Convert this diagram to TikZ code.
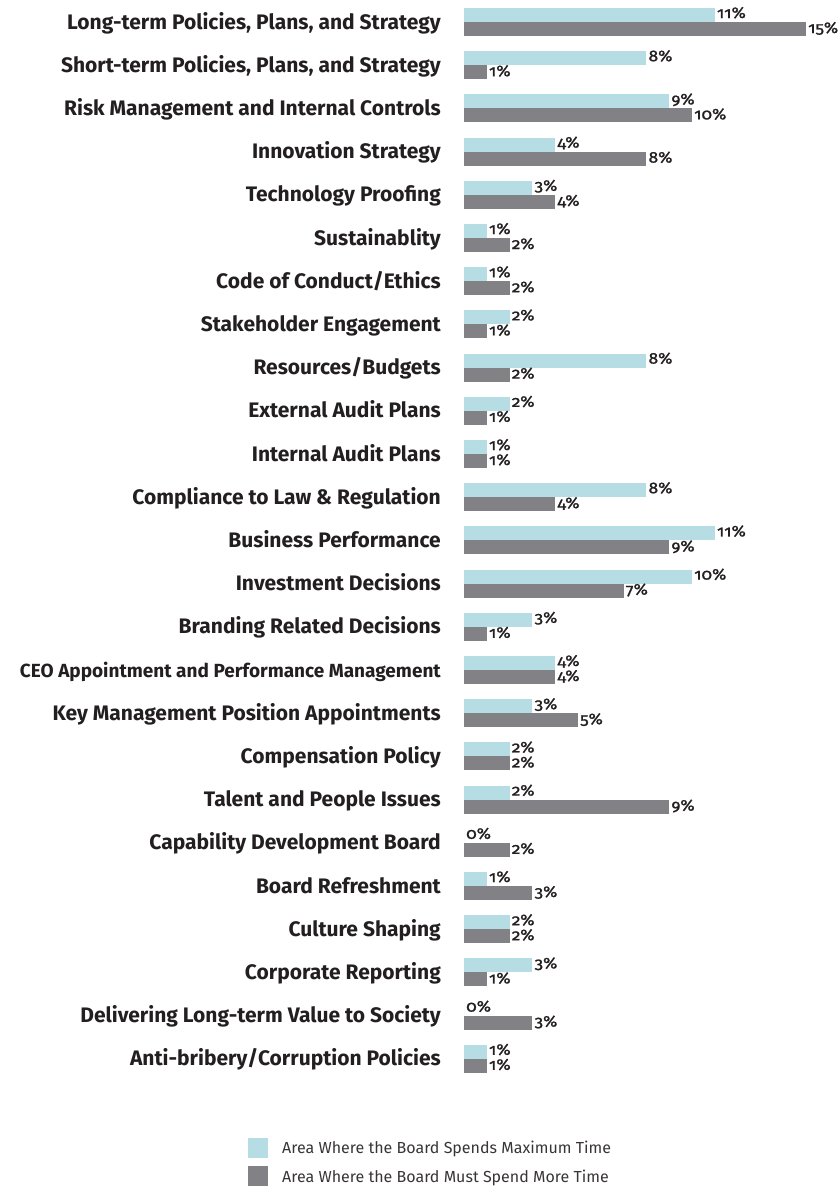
\documentclass[tikz,border=0pt]{standalone}
\usepackage{fontspec}
\setmainfont{Fira Sans}[Numbers=OldStyle]
\newfontfamily\pctfont{Fira Sans}[Numbers=OldStyle, FakeStretch=1.12, FakeBold=1.2]
\usetikzlibrary{positioning}
\definecolor{maxblue}{HTML}{B5DDE3}
\definecolor{moregray}{HTML}{828286}
\definecolor{inkblack}{HTML}{231F20}
\tikzstyle{topic}=[anchor=base east, font=\bfseries\fontsize{21}{24}\selectfont, text=inkblack, inner sep=0pt]
\tikzstyle{pct}=[anchor=base west, font=\pctfont\fontsize{15.5}{18}\selectfont, text=inkblack, inner sep=0pt]
\tikzstyle{legendtext}=[anchor=base west, font=\fontsize{16}{18}\selectfont, text=inkblack!90, inner sep=0pt]

\begin{document}
\begin{tikzpicture}[x=1pt, y=-1pt]

  \useasboundingbox (0,0) rectangle (840,1186);

  \def\u{22.8}
  \def\rowgap{43.2}

   \foreach \i/\name/\a/\b in {1/{Long-term Policies, Plans, and Strategy}/11/15, 2/{Short-term Policies, Plans, and Strategy}/8/1, 3/{Risk Management and Internal Controls}/9/10, 4/{Innovation Strategy}/4/8, 5/{Technology Proofing}/3/4, 6/{Sustainablity}/1/2, 7/{Code of Conduct/Ethics}/1/2, 8/{Stakeholder Engagement}/2/1, 9/{Resources/Budgets}/8/2, 10/{External Audit Plans}/2/1, 11/{Internal Audit Plans}/1/1, 12/{Compliance to Law \& Regulation}/8/4, 13/{Business Performance}/11/9, 14/{Investment Decisions}/10/7, 15/{Branding Related Decisions}/3/1, 16/{\fontsize{19}{22}\selectfont CEO Appointment and Performance Management}/4/4, 17/{Key Management Position Appointments}/3/5, 18/{Compensation Policy}/2/2, 19/{Talent and People Issues}/2/9, 20/{Capability Development Board}/0/2, 21/{Board Refreshment}/1/3, 22/{Culture Shaping}/2/2, 23/{Corporate Reporting}/3/1, 24/{Delivering Long-term Value to Society}/0/3, 25/{Anti-bribery/Corruption Policies}/1/1}
   {
        \pgfmathsetmacro{\yt}{8+\rowgap*(\i-1)}
        \coordinate (row\i) at (464,\yt);
        \fill[maxblue] (row\i) rectangle ++(\a*\u,14) coordinate (maxend\i);
        \fill[moregray] ([yshift=-14pt]row\i) rectangle ++(\b*\u,14) coordinate (moreend\i);
        \node[topic] (topic\i) at ([xshift=-23pt,yshift=-21pt]row\i) {\name};
        \node[pct] (maxpct\i) at ([xshift=2pt,yshift=4pt]maxend\i) {\a\%};
        \node[pct] (morepct\i) at ([xshift=2pt,yshift=3pt]moreend\i) {\b\%};
   }

  % legend
  \fill[maxblue] (248,1138) rectangle (268,1158);
  \fill[moregray] (248,1166) rectangle (268,1186);
  \node[legendtext] (maxkey) at (282,1153) {Area Where the Board Spends Maximum Time};
  \node[legendtext] (morekey) at (282,1182) {Area Where the Board Must Spend More Time};

\end{tikzpicture}
\end{document}
